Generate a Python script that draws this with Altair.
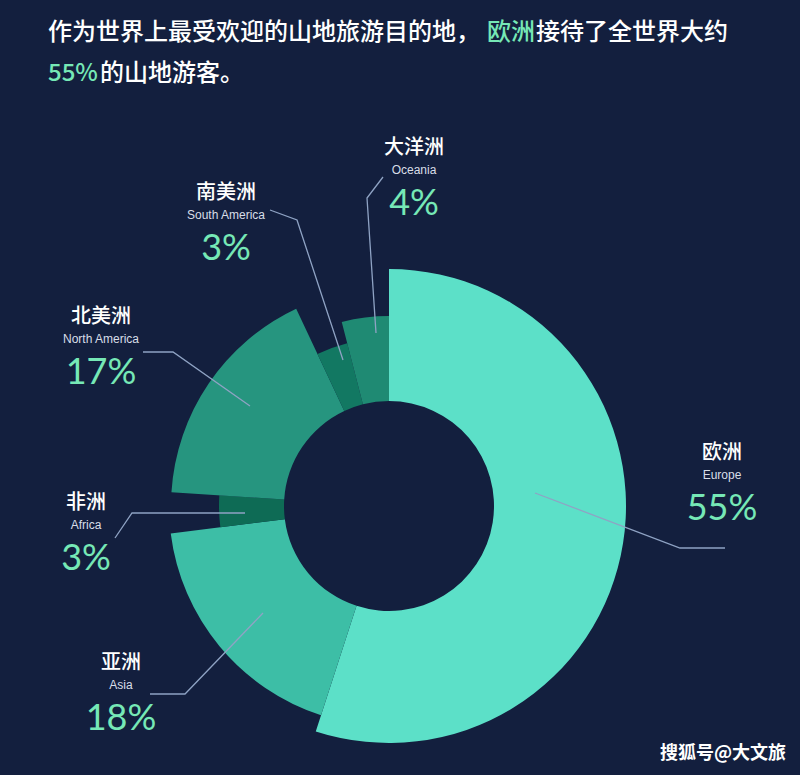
import altair as alt
import pandas as pd
import math

# ---- data ----
continents_cn = ["欧洲", "亚洲", "非洲", "北美洲", "南美洲", "大洋洲"]
continents_en = ["Europe", "Asia", "Africa", "North America", "South America", "Oceania"]
share = [55, 18, 3, 17, 3, 4]
outer_radius = [237, 220, 170, 218, 168, 190]
slice_colors = ["#5ce0c8", "#3dbea6", "#0e6b55", "#26957f", "#127862", "#1f8a73"]

BG = "#131f3e"
GREEN = "#76e8b6"
LINE = "#8fa3c4"
CX, CY = 389, 506

arc_df = pd.DataFrame({
    "cn": continents_cn, "en": continents_en, "share": share,
    "r": outer_radius, "color": slice_colors,
})
arc_df["end"] = arc_df["share"].cumsum()
arc_df["start"] = arc_df["end"] - arc_df["share"]

arcs = alt.Chart(arc_df).mark_arc(innerRadius=105).encode(
    theta=alt.Theta("start:Q", scale=alt.Scale(domain=[0, 100], range=[0, 2 * math.pi])),
    theta2="end:Q",
    radius=alt.Radius("r:Q", scale=alt.Scale(type="linear", domain=[0, 240], range=[0, 240], zero=True)),
    color=alt.Color("color:N", scale=None),
    x=alt.value(CX), y=alt.value(CY),
)

# ---- annotation layout (label anchors) ----
lab_x = [722, 121, 86, 101, 226, 414]
lab_y_cn = [453, 663, 503, 317, 193, 148]
lab_df = pd.DataFrame({
    "cn": continents_cn, "en": continents_en,
    "pct": [f"{v}%" for v in share],
    "x": lab_x,
    "y_cn": lab_y_cn,
    "y_en": [v + 22 for v in lab_y_cn],
    "y_pct": [v + 56 for v in lab_y_cn],
})

def xy(field_y):
    return dict(x=alt.X("x:Q", scale=None), y=alt.Y(f"{field_y}:Q", scale=None))

t_cn = alt.Chart(lab_df).mark_text(font="Noto Sans CJK SC", fontSize=20, fontWeight=500,
                                   color="#ffffff", align="center", baseline="middle").encode(
    text="cn:N", **xy("y_cn"))
t_en = alt.Chart(lab_df).mark_text(font="Liberation Sans", fontSize=12, color="#d8dee8",
                                   align="center", baseline="middle").encode(
    text="en:N", **xy("y_en"))
t_pct = alt.Chart(lab_df).mark_text(font="Lato", fontSize=36, fontWeight="normal", color=GREEN,
                                    align="center", baseline="middle").encode(
    text="pct:N", **xy("y_pct"))

# ---- leader lines ----
leader_id = (["Europe"] * 3 + ["Asia"] * 3 + ["Africa"] * 3 + ["North America"] * 3
             + ["South America"] * 3 + ["Oceania"] * 3)
leader_seq = [0, 1, 2] * 6
leader_x = [535, 680, 725, 263, 185, 150, 245, 132, 115, 250, 173, 143, 343, 297, 270, 376, 367, 383]
leader_y = [493, 548, 548, 613, 694, 694, 513, 513, 538, 406, 352, 352, 360, 220, 210, 333, 198, 177]
lead_df = pd.DataFrame({"id": leader_id, "seq": leader_seq, "x": leader_x, "y": leader_y})
leaders = alt.Chart(lead_df).mark_line(color=LINE, strokeWidth=1.3).encode(
    x=alt.X("x:Q", scale=None), y=alt.Y("y:Q", scale=None),
    detail="id:N", order="seq:Q")

# ---- title ----
title_text = ["作为世界上最受欢迎的山地旅游目的地，", "欧洲", "接待了全世界大约", "55%", "的山地游客。"]
title_color = ["#ffffff", GREEN, "#ffffff", GREEN, "#ffffff"]
title_x = [48, 487, 536, 48, 100]
title_y = [33, 33, 33, 74, 74]
title_df = pd.DataFrame({"t": title_text, "c": title_color, "x": title_x, "y": title_y})
title = alt.Chart(title_df).mark_text(font="Noto Sans CJK SC", fontSize=24, fontWeight=500,
                                      align="left", baseline="middle").encode(
    x=alt.X("x:Q", scale=None), y=alt.Y("y:Q", scale=None),
    text="t:N", color=alt.Color("c:N", scale=None))

# ---- watermark ----
wm_df = pd.DataFrame({"t": ["搜狐号@大文旅"], "x": [723], "y": [754]})
watermark = alt.Chart(wm_df).mark_text(font="Noto Sans CJK SC", fontSize=18, fontWeight="bold",
                                       color="#ffffff", align="center", baseline="middle").encode(
    x=alt.X("x:Q", scale=None), y=alt.Y("y:Q", scale=None), text="t:N")

chart = alt.layer(arcs, leaders, t_cn, t_en, t_pct, title, watermark).properties(
    width=800, height=775, background=BG, padding=0,
    autosize=alt.AutoSizeParams(type="none"),
).configure_view(stroke=None)

chart.save("out.html", embed_options={"renderer": "svg", "actions": False})
